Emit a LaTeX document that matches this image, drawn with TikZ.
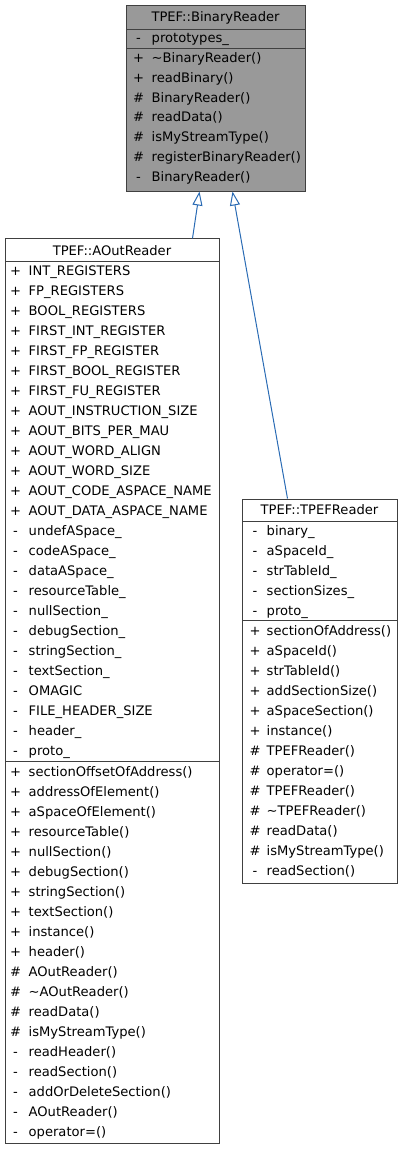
\documentclass[tikz,border=0pt]{standalone}
\usepackage{fontspec}
\setmainfont{DejaVu Sans}
\usetikzlibrary{arrows.meta}
\definecolor{bordercol}{HTML}{404040}
\definecolor{basefill}{HTML}{999999}
\definecolor{edgecol}{HTML}{2A6BB4}
\tikzset{
  classbox/.style={draw=bordercol, line width=1pt, anchor=north west, inner sep=0pt},
  sepline/.style={draw=bordercol, line width=1pt},
  sym/.style={anchor=base, inner sep=0pt, font=\fontsize{13.1}{14}\selectfont},
  nm/.style={anchor=base west, inner sep=0pt, font=\fontsize{13.1}{14}\selectfont},
  ttl/.style={anchor=base, inner sep=0pt, font=\fontsize{13.1}{14}\selectfont},
  inh/.style={draw=edgecol, line width=1pt, -{Triangle[open, length=14pt, width=10pt, fill=white]}}
}
\begin{document}
\begin{tikzpicture}[x=1pt, y=-1pt]
\useasboundingbox (0,0) rectangle (402,1149);

% ---------- TPEF::BinaryReader ----------
\node[classbox, fill=basefill, minimum width=179pt, minimum height=186pt] (base) at (126,4.5) {};
\draw[sepline] (126,29.3) -- (305,29.3);
\draw[sepline] (126,48.3) -- (305,48.3);
\node[ttl] (base-title) at (215.5,21.2) {TPEF::BinaryReader};
\node[sym] (base-as1) at (138.5,42.8) {-};
\node[nm] (base-an1) at (151.5,42.8) {prototypes\_};
\foreach \s/\t [count=\i] in {+/\textasciitilde BinaryReader(), +/readBinary(), \#/BinaryReader(), \#/readData(), \#/isMyStreamType(), \#/registerBinaryReader(), -/BinaryReader()}{
  \node[sym] (base-ms\i) at (138.5,{58.3+(\i-1)*19.7+4.5}) {\s};
  \node[nm] (base-mn\i) at (151.5,{58.3+(\i-1)*19.7+4.5}) {\t};
}

% ---------- TPEF::AOutReader ----------
\node[classbox, fill=white, minimum width=214pt, minimum height=905pt] (aout) at (5,238.3) {};
\draw[sepline] (5,261.7) -- (219,261.7);
\draw[sepline] (5,761.7) -- (219,761.7);
\node[ttl] (aout-title) at (112,255.5) {TPEF::AOutReader};
\foreach \s/\t [count=\i] in {+/INT\_REGISTERS, +/FP\_REGISTERS, +/BOOL\_REGISTERS, +/FIRST\_INT\_REGISTER, +/FIRST\_FP\_REGISTER, +/FIRST\_BOOL\_REGISTER, +/FIRST\_FU\_REGISTER, +/AOUT\_INSTRUCTION\_SIZE, +/AOUT\_BITS\_PER\_MAU, +/AOUT\_WORD\_ALIGN, +/AOUT\_WORD\_SIZE, +/AOUT\_CODE\_ASPACE\_NAME, +/AOUT\_DATA\_ASPACE\_NAME, -/undefASpace\_, -/codeASpace\_, -/dataASpace\_, -/resourceTable\_, -/nullSection\_, -/debugSection\_, -/stringSection\_, -/textSection\_, -/OMAGIC, -/FILE\_HEADER\_SIZE, -/header\_, -/proto\_}{
  \node[sym] (aout-as\i) at (15.5,{270.7+(\i-1)*20+4.5}) {\s};
  \node[nm] (aout-an\i) at (28.5,{270.7+(\i-1)*20+4.5}) {\t};
}
\foreach \s/\t [count=\i] in {+/sectionOffsetOfAddress(), +/addressOfElement(), +/aSpaceOfElement(), +/resourceTable(), +/nullSection(), +/debugSection(), +/stringSection(), +/textSection(), +/instance(), +/header(), \#/AOutReader(), \#/\textasciitilde AOutReader(), \#/readData(), \#/isMyStreamType(), -/readHeader(), -/readSection(), -/addOrDeleteSection(), -/AOutReader(), -/operator=()}{
  \node[sym] (aout-ms\i) at (15.5,{771.5+(\i-1)*20+4.5}) {\s};
  \node[nm] (aout-mn\i) at (28.5,{771.5+(\i-1)*20+4.5}) {\t};
}

% ---------- TPEF::TPEFReader ----------
\node[classbox, fill=white, minimum width=155pt, minimum height=384.5pt] (tpef) at (242,498.5) {};
\draw[sepline] (242,521) -- (397,521);
\draw[sepline] (242,620.5) -- (397,620.5);
\node[ttl] (tpef-title) at (319.5,514.5) {TPEF::TPEFReader};
\foreach \s/\t [count=\i] in {-/binary\_, -/aSpaceId\_, -/strTableId\_, -/sectionSizes\_, -/proto\_}{
  \node[sym] (tpef-as\i) at (255,{530.5+(\i-1)*20+4.5}) {\s};
  \node[nm] (tpef-an\i) at (266.5,{530.5+(\i-1)*20+4.5}) {\t};
}
\foreach \s/\t [count=\i] in {+/sectionOfAddress(), +/aSpaceId(), +/strTableId(), +/addSectionSize(), +/aSpaceSection(), +/instance(), \#/TPEFReader(), \#/operator=(), \#/TPEFReader(), \#/\textasciitilde TPEFReader(), \#/readData(), \#/isMyStreamType(), -/readSection()}{
  \node[sym] (tpef-ms\i) at (255,{631+(\i-1)*20+4.5}) {\s};
  \node[nm] (tpef-mn\i) at (266.5,{631+(\i-1)*20+4.5}) {\t};
}

% ---------- inheritance ----------
\draw[inh] ([xshift=80pt]aout.north) -- ([xshift=-16.5pt]base.south);
\draw[inh] ([xshift=-32.5pt]tpef.north) -- ([xshift=16.5pt]base.south);
\end{tikzpicture}
\end{document}
